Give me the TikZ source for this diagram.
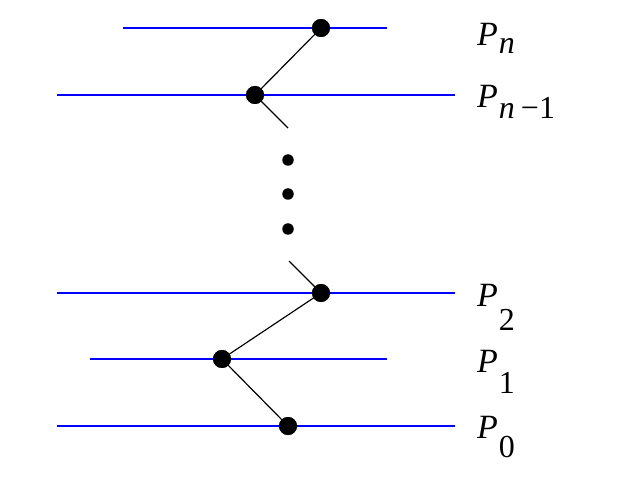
\documentclass[tikz,border=0pt]{standalone}
\usepackage{fontspec}
\setmainfont{Liberation Serif}
\newcommand{\Plab}[2]{\fontsize{34}{34}\selectfont\textit{P}\kern1pt\raisebox{-#2}{\fontsize{32}{32}\selectfont #1}}
\begin{document}
\begin{tikzpicture}[x=1pt,y=-1pt,
  level/.style={blue, line width=1.5pt},
  link/.style={black, line width=1.2pt},
  bigdot/.style={circle, fill=black, inner sep=0pt, minimum size=18pt},
  smalldot/.style={circle, fill=black, inner sep=0pt, minimum size=11.5pt},
  lab/.style={anchor=base west, inner sep=0pt}]
\useasboundingbox (0,0) rectangle (641,484);
% level lines
\coordinate (ln0a) at (123,28);  \coordinate (ln0b) at (387,28);
\coordinate (ln1a) at (57,95);   \coordinate (ln1b) at (455,95);
\coordinate (l2a) at (57,293);   \coordinate (l2b) at (455,293);
\coordinate (l1a) at (90,359);   \coordinate (l1b) at (387,359);
\coordinate (l0a) at (57,426);   \coordinate (l0b) at (455,426);
\draw[level] (ln0a) -- (ln0b);
\draw[level] (ln1a) -- (ln1b);
\draw[level] (l2a) -- (l2b);
\draw[level] (l1a) -- (l1b);
\draw[level] (l0a) -- (l0b);
% points
\node[bigdot] (pn) at (321,28) {};
\node[bigdot] (pn1) at (255,95) {};
\node[bigdot] (p2) at (321,293) {};
\node[bigdot] (p1) at (222,359) {};
\node[bigdot] (p0) at (288,426) {};
\coordinate (s1) at (288,128);
\coordinate (s2) at (289,261);
\draw[link] (pn.center) -- (pn1.center);
\draw[link] (pn1.center) -- (s1);
\draw[link] (s2) -- (p2.center);
\draw[link] (p2.center) -- (p1.center);
\draw[link] (p1.center) -- (p0.center);
\node[bigdot] at (pn) {};
\node[bigdot] at (pn1) {};
\node[bigdot] at (p2) {};
\node[bigdot] at (p1) {};
\node[bigdot] at (p0) {};
% vertical ellipsis
\node[smalldot] (d1) at (288,160) {};
\node[smalldot] (d2) at (288,194) {};
\node[smalldot] (d3) at (288,229) {};
% labels
\node[lab] (tn) at (477,46) {\Plab{\textit{n}}{8pt}};
\node[lab] (tn1) at (477,108) {\Plab{\textit{n}\kern6pt−1}{11pt}};
\node[lab] (t2) at (477,307) {\Plab{2}{24pt}};
\node[lab] (t1) at (477,372) {\Plab{1}{21pt}};
\node[lab] (t0) at (477,438) {\Plab{0}{20pt}};
\end{tikzpicture}
\end{document}
